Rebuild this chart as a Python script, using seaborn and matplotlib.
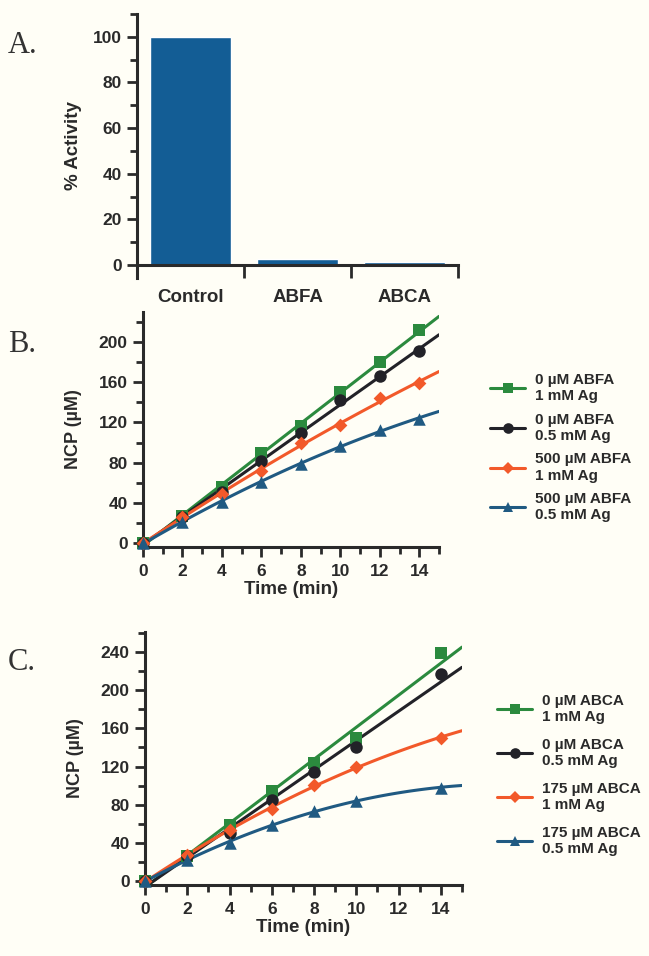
import matplotlib

matplotlib.use("Agg")
import matplotlib.pyplot as plt
from matplotlib.lines import Line2D
from matplotlib.ticker import MultipleLocator, FixedLocator
import seaborn as sns

sns.set_style("ticks")
plt.rcParams["font.family"] = ["Liberation Sans", "DejaVu Sans"]
plt.rcParams["font.weight"] = "bold"

# ---------------------------------------------------------
# data
# ---------------------------------------------------------
categories = ["Control", "ABFA", "ABCA"]
activity = [100, 2.5, 1.2]

time_b = [0, 2, 4, 6, 8, 10, 12, 14]
b_green = [0, 27, 56, 90, 116, 150, 180, 212]
b_black = [0, 26, 51, 82, 110, 142, 166, 191]
b_orange = [0, 26, 49, 72, 100, 117, 144, 159]
b_blue = [0, 21, 41, 61, 79, 97, 113, 123]
labels_b = [
    "0 µM ABFA\n1 mM Ag",
    "0 µM ABFA\n0.5 mM Ag",
    "500 µM ABFA\n1 mM Ag",
    "500 µM ABFA\n0.5 mM Ag",
]

time_c = [0, 2, 4, 6, 8, 10, 14]
c_green = [0, 26, 59, 94, 124, 150, 239]
c_black = [0, 26, 50, 85, 114, 140, 217]
c_orange = [0, 27, 53, 75, 101, 120, 150]
c_blue = [0, 22, 40, 59, 73, 84, 98]
labels_c = [
    "0 µM ABCA\n1 mM Ag",
    "0 µM ABCA\n0.5 mM Ag",
    "175 µM ABCA\n1 mM Ag",
    "175 µM ABCA\n0.5 mM Ag",
]

colors = ["#2b8a3e", "#222228", "#f2592a", "#205a82"]
markers = ["s", "o", "D", "^"]
msizes = [8.5, 9, 7, 9]
fit_order = [1, 1, 2, 2]

bg = "#fffef6"
ink = "#2a2a2a"
W, H = 649, 956

fig = plt.figure(figsize=(W / 100, H / 100), dpi=100, facecolor=bg)


def px_axes(left, top, right, bottom):
    return fig.add_axes(
        [left / W, 1 - bottom / H, (right - left) / W, (bottom - top) / H]
    )


def style_axes(ax):
    ax.set_facecolor(bg)
    for s in ["top", "right"]:
        ax.spines[s].set_visible(False)
    for s in ["left", "bottom"]:
        ax.spines[s].set_linewidth(2.2)
        ax.spines[s].set_color(ink)
    ax.tick_params(which="both", width=2, color=ink, labelcolor=ink, direction="out")


# ---------------------------------------------------------
# A. % activity bars
# ---------------------------------------------------------
axA = px_axes(137, 14, 458, 278)
style_axes(axA)
sns.barplot(x=categories, y=activity, color="#135d95", saturation=1, width=0.76, ax=axA)
axA.set_xlim(-0.5, 2.5)
axA.set_ylim(-5.7, 110)
axA.spines["bottom"].set_position(("data", 0))
axA.yaxis.set_major_locator(MultipleLocator(20))
axA.yaxis.set_minor_locator(MultipleLocator(10))
axA.xaxis.set_minor_locator(FixedLocator([-0.5, 0.5, 1.5, 2.5]))
axA.tick_params(axis="y", which="major", length=7, pad=4, labelsize=12.5)
axA.tick_params(axis="y", which="minor", length=5)
axA.tick_params(axis="x", which="major", length=0, pad=17, labelsize=13.5)
axA.tick_params(axis="x", which="minor", length=9)
axA.set_ylabel("% Activity", fontsize=13.5, fontweight="bold", color=ink, labelpad=8)


# ---------------------------------------------------------
# B. / C. time courses with fitted curves
# ---------------------------------------------------------
def time_course(ax, t, series, labels, ylim, yticks, leg_anchor, leg_spacing):
    style_axes(ax)
    ax.set_xlim(0, 15)
    ax.set_ylim(*ylim)
    for y, c, m, ms, o in zip(series, colors, markers, msizes, fit_order):
        sns.regplot(
            x=t,
            y=y,
            order=o,
            ci=None,
            truncate=False,
            marker=m,
            color=c,
            scatter_kws={"s": ms**2, "alpha": 1, "linewidths": 0, "clip_on": False, "zorder": 4},
            line_kws={"lw": 2.2, "zorder": 3},
            ax=ax,
        )
    ax.set_xlim(0, 15)
    ax.set_ylim(*ylim)
    ax.xaxis.set_major_locator(MultipleLocator(2))
    ax.xaxis.set_minor_locator(MultipleLocator(1))
    ax.yaxis.set_major_locator(MultipleLocator(yticks))
    ax.yaxis.set_minor_locator(MultipleLocator(yticks / 2))
    ax.tick_params(which="major", length=7.5, labelsize=12.5)
    ax.tick_params(which="minor", length=5)
    ax.tick_params(axis="x", pad=5)
    ax.tick_params(axis="y", pad=3.5)
    ax.set_xlabel("Time (min)", fontsize=13.5, fontweight="bold", color=ink, labelpad=1)
    ax.set_ylabel("NCP (µM)", fontsize=13, fontweight="bold", color=ink, labelpad=12)

    handles = [
        Line2D([], [], color=c, marker=m, markersize=ms * 0.85, lw=2.2, markeredgewidth=0)
        for c, m, ms in zip(colors, markers, msizes)
    ]
    leg = fig.legend(
        handles,
        labels,
        loc="upper left",
        bbox_to_anchor=leg_anchor,
        bbox_transform=fig.transFigure,
        frameon=False,
        borderpad=0,
        borderaxespad=0,
        handlelength=2.3,
        handletextpad=0.65,
        labelspacing=leg_spacing,
        prop={"size": 11, "weight": "bold"},
        labelcolor=ink,
    )
    for txt in leg.get_texts():
        txt.set_linespacing(1.2)


axB = px_axes(143, 312, 439, 547)
time_course(
    axB, time_b, [b_green, b_black, b_orange, b_blue], labels_b,
    (-4, 230), 40, (490 / W, 1 - 373 / H), 0.62,
)

axC = px_axes(145, 632, 462, 885)
time_course(
    axC, time_c, [c_green, c_black, c_orange, c_blue], labels_c,
    (-4.2, 261), 40, (497 / W, 1 - 694 / H), 0.9,
)

# panel letters
for letter, base in [("A.", 53), ("B.", 352), ("C.", 670)]:
    fig.text(8 / W, 1 - base / H, letter, fontsize=22, family="Liberation Serif",
             fontweight="normal", color="#333333", va="baseline", ha="left")

fig.savefig("out.png", dpi=100, facecolor=bg)
